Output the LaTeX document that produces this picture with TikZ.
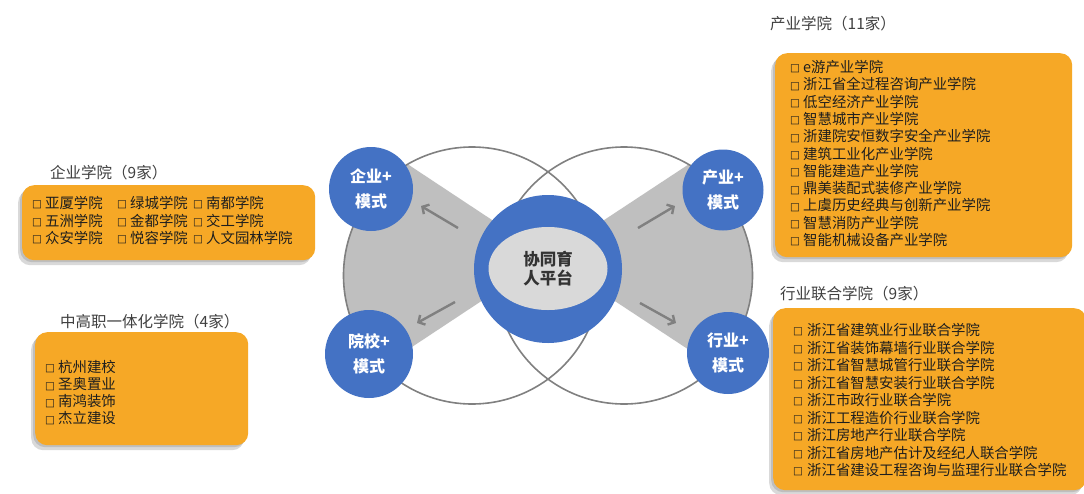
\documentclass[tikz,border=0pt]{standalone}
\usepackage{fontspec}
\setmainfont{Noto Sans CJK SC}
\newfontfamily\symfont{DejaVu Sans}
\usetikzlibrary{arrows.meta,shapes.geometric,shadows}
\definecolor{orangebox}{RGB}{246,168,38}
\definecolor{bluec}{RGB}{68,114,196}
\definecolor{wedgegray}{RGB}{191,191,191}
\definecolor{ringgray}{RGB}{128,128,128}
\definecolor{coregray}{RGB}{217,217,217}
\definecolor{titlegray}{RGB}{64,64,64}
\definecolor{itemtext}{RGB}{30,30,30}
\newcommand\bx{\makebox[13pt][l]{\raisebox{0.6pt}{\symfont\fontsize{10.5}{10.5}\selectfont □}}}
\newcommand\bxw{\makebox[14pt][l]{\raisebox{0.6pt}{\symfont\fontsize{10.5}{10.5}\selectfont □}}}
\begin{document}
\begin{tikzpicture}[x=1pt,y=-1pt,
  obox/.style={fill=orangebox, rounded corners=12pt, anchor=north west, inner sep=0pt,
    drop shadow={shadow xshift=-2pt, shadow yshift=-2pt, fill=black, opacity=0.12},
    drop shadow={shadow xshift=-4pt, shadow yshift=-5pt, fill=black, opacity=0.15}},
  item/.style={anchor=base west, inner sep=0pt, text=itemtext, font=\fontsize{14.4}{17}\selectfont},
  title/.style={anchor=base west, inner sep=0pt, text=titlegray, font=\fontsize{15.5}{18}\selectfont},
  ring/.style={circle, draw=ringgray, line width=1.6pt, minimum size=257pt, inner sep=0pt},
  bcirc/.style={circle, fill=bluec, inner sep=0pt, minimum size=84pt, align=center, text=white,
    font=\bfseries\fontsize{16}{25}\selectfont},
  arr/.style={draw=ringgray, line width=2.4pt, -{Straight Barb[length=5pt,width=11pt]}}]
\useasboundingbox (0,0) rectangle (1084,493);
\fill[white] (0,0) rectangle (1084,493);

% gray wedges
\begin{scope}
  \clip (472,275.5) circle[radius=128.5pt];
  \fill[wedgegray] (548,257) -- (300,93) -- (300,421) -- cycle;
\end{scope}
\begin{scope}
  \clip (624,275.5) circle[radius=128.5pt];
  \fill[wedgegray] (548,257) -- (800,91) -- (800,423) -- cycle;
\end{scope}
\node[ring] (Lring) at (472,275.5) {};
\node[ring] (Rring) at (624,275.5) {};

% hub
\node[circle, fill=bluec, minimum size=148pt, inner sep=0pt] (hub) at (548,269) {};
\node[ellipse, fill=coregray, minimum width=119pt, minimum height=83pt, inner sep=0pt,
  align=center, text=titlegray!80!black, font=\bfseries\fontsize{16.5}{19.5}\selectfont] (core) at (548,268.5) {协同育\\人平台};

% mode circles
\node[bcirc] (qy) at (371,189) {企业+\\模式};
\node[bcirc, minimum size=81pt] (cy) at (723,190) {产业+\\模式};
\node[bcirc, minimum size=88pt] (yx) at (369,354) {院校+\\模式};
\node[bcirc, minimum size=82pt] (hy) at (728,353) {行业+\\模式};

% arrows
\coordinate (a1s) at (458,228); \coordinate (a1e) at (421,206);
\coordinate (a2s) at (455,302); \coordinate (a2e) at (417,323);
\coordinate (a3s) at (638,228); \coordinate (a3e) at (675,206);
\coordinate (a4s) at (640,303); \coordinate (a4e) at (676,323);
\draw[arr] (a1s) -- (a1e);
\draw[arr] (a2s) -- (a2e);
\draw[arr] (a3s) -- (a3e);
\draw[arr] (a4s) -- (a4e);

% boxes
\node[obox, minimum width=293pt, minimum height=75pt] (bq) at (22,185) {};
\node[obox, minimum width=213pt, minimum height=113pt] (bz) at (35,332) {};
\node[obox, minimum width=297pt, minimum height=204pt] (bc) at (775,53) {};
\node[obox, minimum width=313pt, minimum height=182pt] (bh) at (773,308) {};

% titles
\node[title] (tq) at (50,178) {企业学院（9家）};
\node[title] (tz) at (60,327) {中高职一体化学院（4家）};
\node[title] (tc) at (770,29) {产业学院（11家）};
\node[title] (th) at (780,299) {行业联合学院（9家）};

% enterprise colleges
\foreach \t [count=\i] in {亚厦学院,五洲学院,众安学院}
  \node[item] (q1\i) at (32,{208.5+17.5*(\i-1)}) {\bx\t};
\foreach \t [count=\i] in {绿城学院,金都学院,悦容学院}
  \node[item] (q2\i) at (117,{208.5+17.5*(\i-1)}) {\bx\t};
\foreach \t [count=\i] in {南都学院,交工学院,人文园林学院}
  \node[item] (q3\i) at (193,{208.5+17.5*(\i-1)}) {\bx\t};

% vocational
\foreach \t [count=\i] in {杭州建校,圣奥置业,南鸿装饰,杰立建设}
  \node[item] (z\i) at (45,{372.5+17.1*(\i-1)}) {\bx\t};

% industry colleges
\foreach \t [count=\i] in {e游产业学院,浙江省全过程咨询产业学院,低空经济产业学院,智慧城市产业学院,浙建院安恒数字安全产业学院,建筑工业化产业学院,智能建造产业学院,鼎美装配式装修产业学院,上虞历史经典与创新产业学院,智慧消防产业学院,智能机械设备产业学院}
  \node[item] (c\i) at (790,{72.5+17.3*(\i-1)}) {\bx\t};

% trade colleges
\foreach \t [count=\i] in {浙江省建筑业行业联合学院,浙江省装饰幕墙行业联合学院,浙江省智慧城管行业联合学院,浙江省智慧安装行业联合学院,浙江市政行业联合学院,浙江工程造价行业联合学院,浙江房地产行业联合学院,浙江省房地产估计及经纪人联合学院,浙江省建设工程咨询与监理行业联合学院}
  \node[item] (h\i) at (793,{335.5+17.5*(\i-1)}) {\bxw\t};
\end{tikzpicture}
\end{document}
